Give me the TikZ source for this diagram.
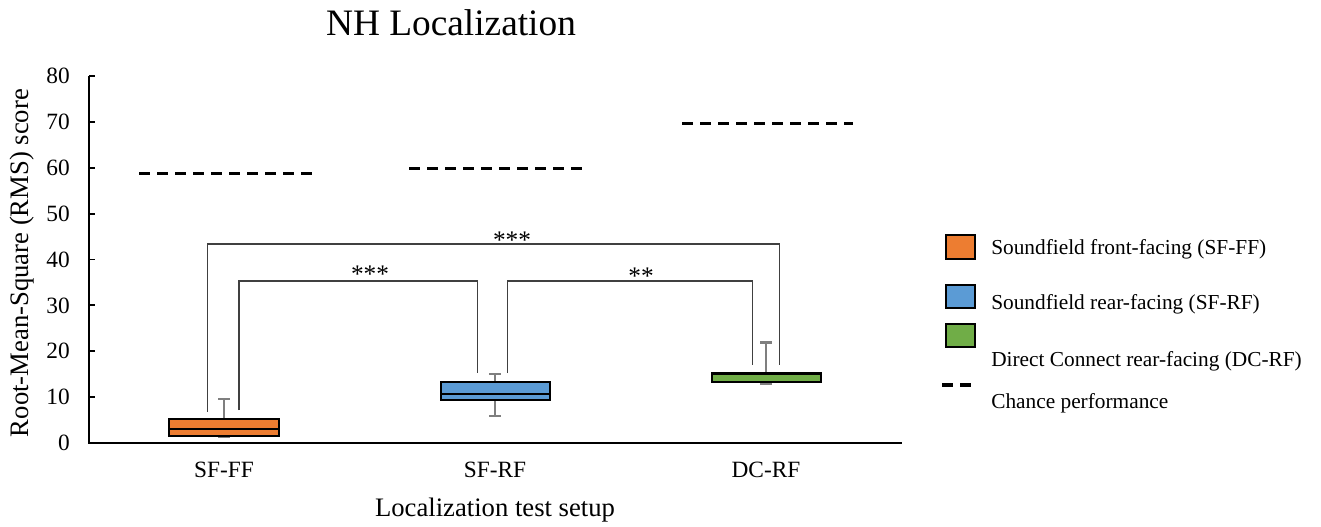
\documentclass[tikz,border=0pt]{standalone}
\usepackage{fontspec}
\setmainfont{Liberation Serif}
\definecolor{sfff}{HTML}{ED7D31}
\definecolor{sfrf}{HTML}{5B9BD5}
\definecolor{dcrf}{HTML}{70AD47}
\definecolor{whisk}{HTML}{7F7F7F}
\definecolor{brk}{HTML}{404040}
\tikzset{
  axisline/.style={line width=1.9pt, black},
  tickmark/.style={line width=1.4pt, black},
  ticklabel/.style={font=\fontsize{17.5}{19}\selectfont, inner sep=0pt},
  catlabel/.style={font=\fontsize{17.5}{19}\selectfont, inner sep=0pt},
  axistitle/.style={font=\fontsize{20}{22}\selectfont, inner sep=0pt},
  legtext/.style={font=\fontsize{16}{18}\selectfont, inner sep=0pt, anchor=base west},
  boxbody/.style={draw=black, line width=1.5pt},
  whiskerline/.style={draw=whisk, line width=1.6pt},
  chance/.style={line width=2.3pt, black, dash pattern=on 8pt off 5.5pt},
  bracket/.style={draw=brk, line width=1.1pt},
  sig/.style={font=\fontsize{19}{21}\selectfont, inner sep=0pt, anchor=base},
}
\begin{document}
\begin{tikzpicture}[x=0.75pt, y=-0.75pt]
\useasboundingbox (0,0) rectangle (1321,527);
\fill[white] (0,0) rectangle (1321,527);

% title
\node[font=\fontsize{28}{30}\selectfont, inner sep=0pt, anchor=base] (title) at (451,36) {NH Localization};

% axes
\draw[axisline] (89,76) -- (89,443) -- (902,443);

\begin{scope}[shift={(0,443)}, y={(0pt,3.4406pt)}]
  % ticks and tick labels
  \foreach \v in {0,10,...,80} {
    \draw[tickmark] (89,\v) -- (95,\v);
    \node[ticklabel, anchor=east] (t\v) at (70,\v) {\v};
  }

  % chance performance
  \draw[chance] (139,58.8) -- (318,58.8);
  \draw[chance] (409,59.9) -- (582,59.9);
  \draw[chance] (682,69.7) -- (853,69.7);

  % whiskers
  \draw[whiskerline] (224,5.2) -- (224,9.6) (218,9.6) -- (230,9.6);
  \draw[whiskerline] (224,1.6) -- (224,1.35) (218,1.35) -- (230,1.35);
  \draw[whiskerline] (495,13.4) -- (495,15.0) (489,15.0) -- (501,15.0);
  \draw[whiskerline] (495,9.4) -- (495,5.9) (489,5.9) -- (501,5.9);
  \draw[whiskerline] (766,15.2) -- (766,21.9) (760,21.9) -- (772,21.9);
  \draw[whiskerline] (766,13.4) -- (766,12.8) (760,12.8) -- (772,12.8);

  % boxes with medians
  \filldraw[boxbody, fill=sfff] (169,1.6) rectangle (279,5.2);
  \draw[boxbody] (169,3.1) -- (279,3.1);
  \filldraw[boxbody, fill=sfrf] (441,9.4) rectangle (550,13.4);
  \draw[boxbody] (441,10.6) -- (550,10.6);
  \filldraw[boxbody, fill=dcrf] (712,13.4) rectangle (821,15.2);
  \draw[boxbody] (712,15.1) -- (821,15.1);
\end{scope}

% category labels
\node[catlabel] (c1) at (224,470) {SF-FF};
\node[catlabel] (c2) at (495,470) {SF-RF};
\node[catlabel] (c3) at (766,470) {DC-RF};

% axis titles
\node[axistitle, anchor=base] (xt) at (495,516) {Localization test setup};
\node[axistitle, rotate=90] (yt) at (22,263) {Root-Mean-Square (RMS) score};

% significance brackets
\coordinate (o1) at (207.7,411.5);
\coordinate (o2) at (779.3,365);
\coordinate (l1) at (239,410);
\coordinate (l2) at (477.3,373);
\coordinate (r1) at (507.3,373);
\coordinate (r2) at (752.3,365);
\draw[bracket] (o1) |- (o2 |- 0,244) -- (o2);
\draw[bracket] (l1) |- (l2 |- 0,281) -- (l2);
\draw[bracket] (r1) |- (r2 |- 0,281) -- (r2);
\node[sig] (s1) at (512,249) {***};
\node[sig] (s2) at (370,283) {***};
\node[sig] (s3) at (641,285) {**};

% legend
\draw[boxbody, fill=sfff] (946,235) rectangle (975,259);
\draw[boxbody, fill=sfrf] (946,285) rectangle (975,308);
\draw[boxbody, fill=dcrf] (946,324) rectangle (975,347);
\draw[chance, dash pattern=on 8pt off 5.5pt] (942,385) -- (971,385);
\node[legtext] (lg1) at (991,255) {Soundfield front-facing (SF-FF)};
\node[legtext] (lg2) at (991,310) {Soundfield rear-facing (SF-RF)};
\node[legtext] (lg3) at (991,367) {Direct Connect rear-facing (DC-RF)};
\node[legtext] (lg4) at (991,408) {Chance performance};
\end{tikzpicture}
\end{document}
